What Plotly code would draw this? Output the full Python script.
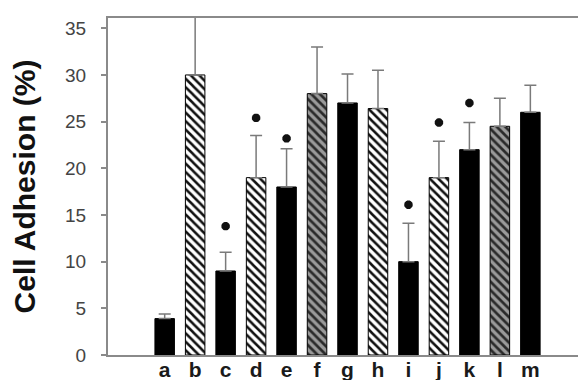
import plotly.graph_objects as go

categories = ["a", "b", "c", "d", "e", "f", "g", "h", "i", "j", "k", "l", "m"]
values = [3.9, 30.0, 9.0, 19.0, 18.0, 28.0, 27.0, 26.4, 10.0, 19.0, 22.0, 24.5, 26.0]
errors = [0.5, 10.0, 2.0, 4.5, 4.1, 5.0, 3.1, 4.1, 4.1, 3.9, 2.9, 3.0, 2.9]
fills = ["solid", "light", "solid", "light", "solid", "dark", "solid", "light",
         "solid", "light", "solid", "dark", "solid"]
star_cats = ["c", "d", "e", "i", "j", "k"]
star_y = [13.8, 25.4, 23.2, 16.1, 24.9, 27.0]
y_ticks = [0, 5, 10, 15, 20, 25, 30, 35]

styles = {
    "solid": dict(color="black"),
    "light": dict(color="white", pattern=dict(shape="\\", fgcolor="#111", bgcolor="white",
                                              size=6, solidity=0.42, fillmode="replace")),
    "dark": dict(color="#9a9a9a", pattern=dict(shape="\\", fgcolor="#2a2a2a", bgcolor="#9a9a9a",
                                               size=6, solidity=0.45, fillmode="replace")),
}

fig = go.Figure()
for kind, st in styles.items():
    idx = [i for i, f in enumerate(fills) if f == kind]
    fig.add_trace(go.Bar(
        x=[categories[i] for i in idx], y=[values[i] for i in idx], width=0.64,
        marker=dict(line=dict(color="black", width=1), **st),
        error_y=dict(type="data", symmetric=False, array=[errors[i] for i in idx],
                     arrayminus=[0] * len(idx), color="#7a7a7a", thickness=1.5, width=6),
        showlegend=False,
    ))
fig.add_trace(go.Scatter(
    x=star_cats, y=star_y, mode="markers",
    marker=dict(symbol="asterisk-open", size=7, color="#111", line=dict(width=3, color="#111")),
    showlegend=False,
))

fig.update_layout(
    width=586, height=380,
    margin=dict(l=100, r=1, t=10, b=33),
    plot_bgcolor="white", paper_bgcolor="white",
    barmode="overlay",
)
fig.update_xaxes(
    type="category", categoryorder="array", categoryarray=categories,
    range=[-1.86, 13.99],
    showline=True, linecolor="#8a8a8a", linewidth=2, mirror=True,
    ticks="", showgrid=False, zeroline=False, ticklabelstandoff=-5,
    tickfont=dict(family="Liberation Sans", size=21, color="#1a1a1a", weight="bold"),
)
fig.update_yaxes(
    range=[0, 36.1], tickvals=y_ticks,
    showline=True, linecolor="#8a8a8a", linewidth=2, mirror=True,
    ticks="outside", ticklen=5, tickcolor="#8a8a8a", tickwidth=1.5,
    showgrid=False, zeroline=False, ticklabelstandoff=11,
    tickfont=dict(family="Liberation Sans", size=19, color="#444"),
    title=dict(text="Cell Adhesion (%)", standoff=25,
               font=dict(family="Liberation Sans", size=30, color="#111", weight="bold")),
)

fig.write_html("out.html")
